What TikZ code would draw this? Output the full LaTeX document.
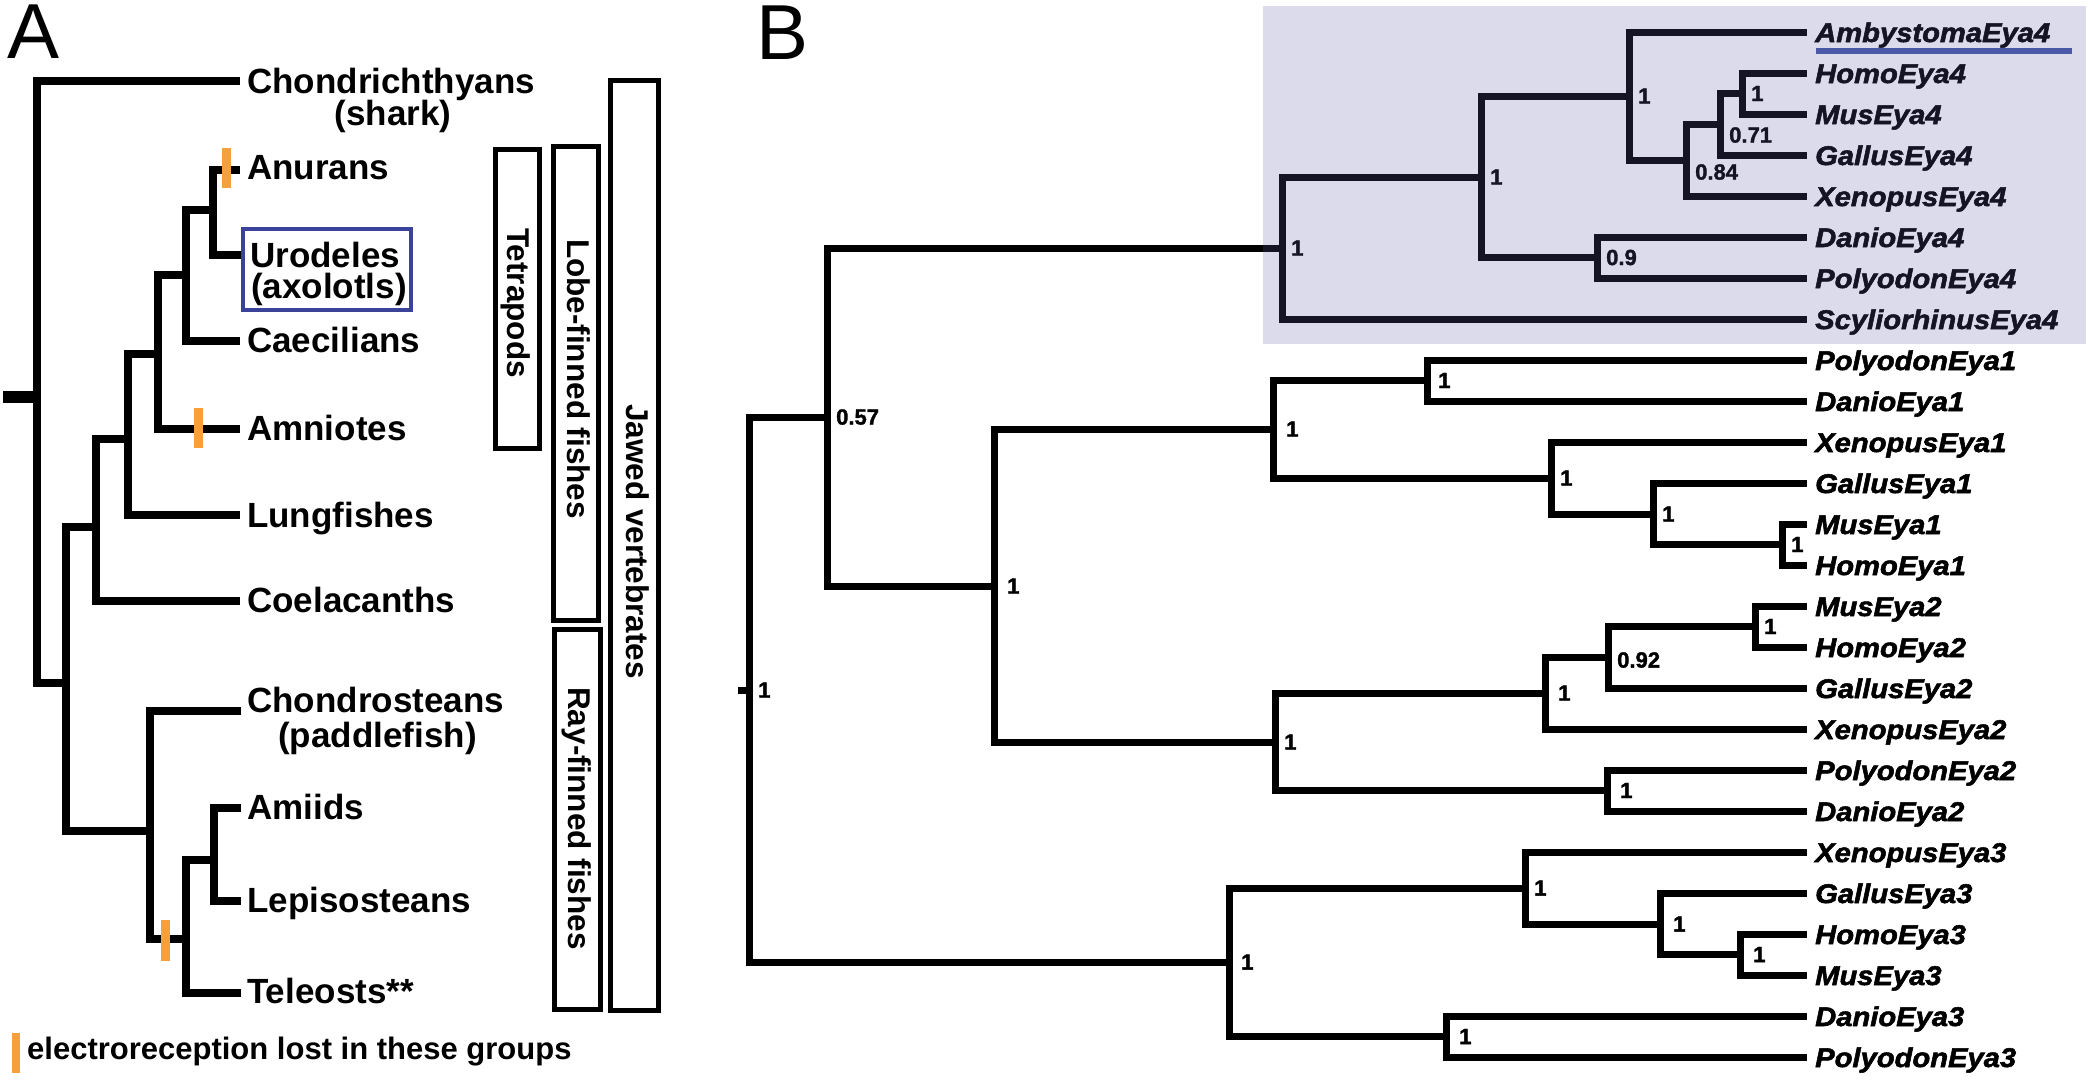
\documentclass[tikz,border=0pt]{standalone}
\usepackage{fontspec}
\setmainfont{Liberation Sans}
\newfontfamily\leaffont[FakeStretch=1.08,FakeBold=2]{Liberation Sans}
\newfontfamily\bsfont[FakeBold=1.5]{Liberation Sans}
\definecolor{tickorange}{HTML}{F5A03C}
\definecolor{uroblue}{HTML}{3A4399}
\definecolor{ulblue}{HTML}{4A58A8}
\definecolor{shadecol}{RGB}{96,94,170}
\begin{document}
\begin{tikzpicture}[x=1pt,y=-1pt,
  branchA/.style={line width=8pt},
  branchB/.style={line width=7pt},
  stubA/.style={line width=12pt},
  orangetick/.style={tickorange,line width=9pt},
  letter/.style={anchor=base west,inner sep=0pt,font=\fontsize{78}{90}\selectfont},
  labA/.style={anchor=base west,inner sep=0pt,font=\fontsize{35}{40}\selectfont\bfseries},
  legendtext/.style={anchor=base west,inner sep=0pt,font=\fontsize{31}{34}\selectfont\bfseries},
  grpbox/.style={draw,line width=5pt,inner sep=0pt},
  grptext/.style={rotate=-90,inner sep=0pt,font=\fontsize{31.5}{34}\selectfont\bfseries},
  leaf/.style={anchor=base west,inner sep=0pt,font=\fontsize{27}{30}\selectfont\leaffont\bfseries\itshape},
  bs/.style={anchor=west,xshift=9pt,inner sep=0pt,font=\fontsize{22}{24}\selectfont\bsfont\bfseries}
]
\useasboundingbox (0,0) rectangle (2088,1080);
\fill[white] (0,0) rectangle (2088,1080);

%% ---------------- Panel A ----------------
\node[letter] (lA) at (7,58) {A};

\coordinate (aStub) at (3,397);
\coordinate (a1) at (37,397);
\coordinate (a2) at (65.5,682.5);
\coordinate (a3) at (96,527);
\coordinate (a4) at (128,439);
\coordinate (a5) at (158,354);
\coordinate (a6) at (186,275);
\coordinate (a7) at (213,210);
\coordinate (a8) at (150,830.5);
\coordinate (a9) at (186,939);
\coordinate (a10) at (214,860);

\coordinate (tChon) at (240,81);
\coordinate (tAnur) at (240,169.5);
\coordinate (tUro) at (241,255);
\coordinate (tCaec) at (240,340.5);
\coordinate (tAmni) at (240,429);
\coordinate (tLung) at (240,515);
\coordinate (tCoel) at (240,601);
\coordinate (tChondr) at (241,711);
\coordinate (tAmii) at (241,808);
\coordinate (tLepi) at (241,901);
\coordinate (tTele) at (241,992.5);

\draw[stubA] (aStub) -- (a1);
\draw[branchA] (a1) |- (tChon);
\draw[branchA] (a1) |- (a2);
\draw[branchA] (a2) |- (a3);
\draw[branchA] (a2) |- (a8);
\draw[branchA] (a3) |- (a4);
\draw[branchA] (a3) |- (tCoel);
\draw[branchA] (a4) |- (a5);
\draw[branchA] (a4) |- (tLung);
\draw[branchA] (a5) |- (a6);
\draw[branchA] (a5) |- (tAmni);
\draw[branchA] (a6) |- (a7);
\draw[branchA] (a6) |- (tCaec);
\draw[branchA] (a7) |- (tAnur);
\draw[branchA] (a7) |- (tUro);
\draw[branchA] (a8) |- (tChondr);
\draw[branchA] (a8) |- (a9);
\draw[branchA] (a9) |- (a10);
\draw[branchA] (a9) |- (tTele);
\draw[branchA] (a10) |- (tAmii);
\draw[branchA] (a10) |- (tLepi);

\draw[orangetick] (226.5,148) -- (226.5,188);
\draw[orangetick] (198,408) -- (198,448);
\draw[orangetick] (165.5,920) -- (165.5,961);

\node[labA] (lChon) at (247,93) {Chondrichthyans};
\node[labA,anchor=base] (lShark) at (393,125) {(shark)};
\node[labA] (lAnur) at (247,179) {Anurans};
\node[draw=uroblue,line width=4pt,minimum width=168pt,minimum height=81pt,inner sep=0pt] (uroBox) at (327,269.5) {};
\node[labA] (lUro) at (250,267) {Urodeles};
\node[labA] (lAxo) at (251,298) {(axolotls)};
\node[labA] (lCaec) at (247,352) {Caecilians};
\node[labA] (lAmni) at (247,440) {Amniotes};
\node[labA] (lLung) at (247,527) {Lungfishes};
\node[labA] (lCoel) at (247,612) {Coelacanths};
\node[labA] (lChondr) at (247,712) {Chondrosteans};
\node[labA,anchor=base] (lPaddle) at (377.5,747) {(paddlefish)};
\node[labA] (lAmii) at (247,819) {Amiids};
\node[labA] (lLepi) at (247,912) {Lepisosteans};
\node[labA] (lTele) at (247,1003) {Teleosts**};

\node[grpbox,minimum width=44pt,minimum height=299pt] (bTet) at (517.5,299) {};
\node[grptext] (tTet) at (516,303) {Tetrapods};
\node[grpbox,minimum width=45pt,minimum height=474pt] (bLobe) at (576,383.5) {};
\node[grptext] (tLobe) at (579,379) {Lobe-finned fishes};
\node[grpbox,minimum width=46pt,minimum height=380pt] (bRay) at (577.5,819.5) {};
\node[grptext] (tRay) at (577,818.5) {Ray-finned fishes};
\node[grpbox,minimum width=48pt,minimum height=930pt] (bJaw) at (634.5,545) {};
\node[grptext] (tJaw) at (638,541.5) {Jawed vertebrates};

\draw[tickorange,line width=8pt] (16,1033) -- (16,1073);
\node[legendtext] (lLeg) at (27,1059) {electroreception lost in these groups};

%% ---------------- Panel B ----------------
\node[letter] (lB) at (756,59) {B};

\foreach \i/\nm in {0/AmbystomaEya4,1/HomoEya4,2/MusEya4,3/GallusEya4,4/XenopusEya4,
  5/DanioEya4,6/PolyodonEya4,7/ScyliorhinusEya4,8/PolyodonEya1,9/DanioEya1,
  10/XenopusEya1,11/GallusEya1,12/MusEya1,13/HomoEya1,14/MusEya2,15/HomoEya2,
  16/GallusEya2,17/XenopusEya2,18/PolyodonEya2,19/DanioEya2,20/XenopusEya3,
  21/GallusEya3,22/HomoEya3,23/MusEya3,24/DanioEya3,25/PolyodonEya3}{
  \coordinate (t\i) at (1807,{32+41*\i});
  \node[leaf] (L\i) at (1815,{42+41*\i}) {\nm};
}

\coordinate (Rstub) at (738,690);
\coordinate (R) at (749,690);
\coordinate (P057) at (827,417);
\coordinate (C4) at (1282,248);
\coordinate (C4a) at (1481,177);
\coordinate (C4b) at (1629,96);
\coordinate (C4c) at (1686,160);
\coordinate (C4e) at (1720,124);
\coordinate (C4f) at (1742,93.5);
\coordinate (C4d) at (1597,257.5);
\coordinate (E12) at (994,586);
\coordinate (E1) at (1273,429);
\coordinate (E1a) at (1427,380.5);
\coordinate (E1b) at (1551,478);
\coordinate (E1c) at (1653,514);
\coordinate (E1d) at (1782,544.5);
\coordinate (E2) at (1275,742);
\coordinate (E2a) at (1545,693);
\coordinate (E2b) at (1608,657);
\coordinate (E2c) at (1755,626.5);
\coordinate (E2d) at (1607,790.5);
\coordinate (E3) at (1229,962);
\coordinate (E3a) at (1525,888);
\coordinate (E3b) at (1660,924);
\coordinate (E3c) at (1740,954.5);
\coordinate (E3d) at (1446,1036.5);

\draw[branchB] (Rstub) -- (R);
\foreach \p/\c in {R/P057,R/E3,P057/C4,P057/E12,C4/C4a,C4/t7,C4a/C4b,C4a/C4d,
  C4b/t0,C4b/C4c,C4c/C4e,C4c/t4,C4e/C4f,C4e/t3,C4f/t1,C4f/t2,C4d/t5,C4d/t6,
  E12/E1,E12/E2,E1/E1a,E1/E1b,E1a/t8,E1a/t9,E1b/t10,E1b/E1c,E1c/t11,E1c/E1d,
  E1d/t12,E1d/t13,E2/E2a,E2/E2d,E2a/E2b,E2a/t17,E2b/E2c,E2b/t16,E2c/t14,E2c/t15,
  E2d/t18,E2d/t19,E3/E3a,E3/E3d,E3a/t20,E3a/E3b,E3b/t21,E3b/E3c,E3c/t22,E3c/t23,
  E3d/t24,E3d/t25}{
  \draw[branchB] (\p) |- (\c);
}

\node[bs] (bsR) at (R) {1};
\node[bs] (bsP057) at (P057) {0.57};
\node[bs] (bsC4) at (C4) {1};
\node[bs] (bsC4a) at (C4a) {1};
\node[bs] (bsC4b) at (C4b) {1};
\node[bs] (bsC4c) at (1686,172) {0.84};
\node[bs] (bsC4e) at (1720,135) {0.71};
\node[bs] (bsC4f) at (C4f) {1};
\node[bs] (bsC4d) at (C4d) {0.9};
\node[bs,xshift=4pt] (bsE12) at (E12) {1};
\node[bs,xshift=4pt] (bsE1) at (E1) {1};
\node[bs,xshift=2pt] (bsE1a) at (E1a) {1};
\node[bs] (bsE1b) at (E1b) {1};
\node[bs] (bsE1c) at (E1c) {1};
\node[bs] (bsE1d) at (E1d) {1};
\node[bs] (bsE2) at (E2) {1};
\node[bs,xshift=4pt] (bsE2a) at (E2a) {1};
\node[bs] (bsE2b) at (1608,660) {0.92};
\node[bs] (bsE2c) at (E2c) {1};
\node[bs,xshift=4pt] (bsE2d) at (E2d) {1};
\node[bs,xshift=3pt] (bsE3) at (E3) {1};
\node[bs] (bsE3a) at (E3a) {1};
\node[bs,xshift=4pt] (bsE3b) at (E3b) {1};
\node[bs,xshift=4pt] (bsE3c) at (E3c) {1};
\node[bs,xshift=4pt] (bsE3d) at (E3d) {1};

% translucent lavender highlight over the Eya4 clade
\fill[shadecol,fill opacity=0.22] (1263,6) rectangle (2086,344);
\draw[ulblue,line width=6pt] (1816,51) -- (2072,51);
\end{tikzpicture}
\end{document}
